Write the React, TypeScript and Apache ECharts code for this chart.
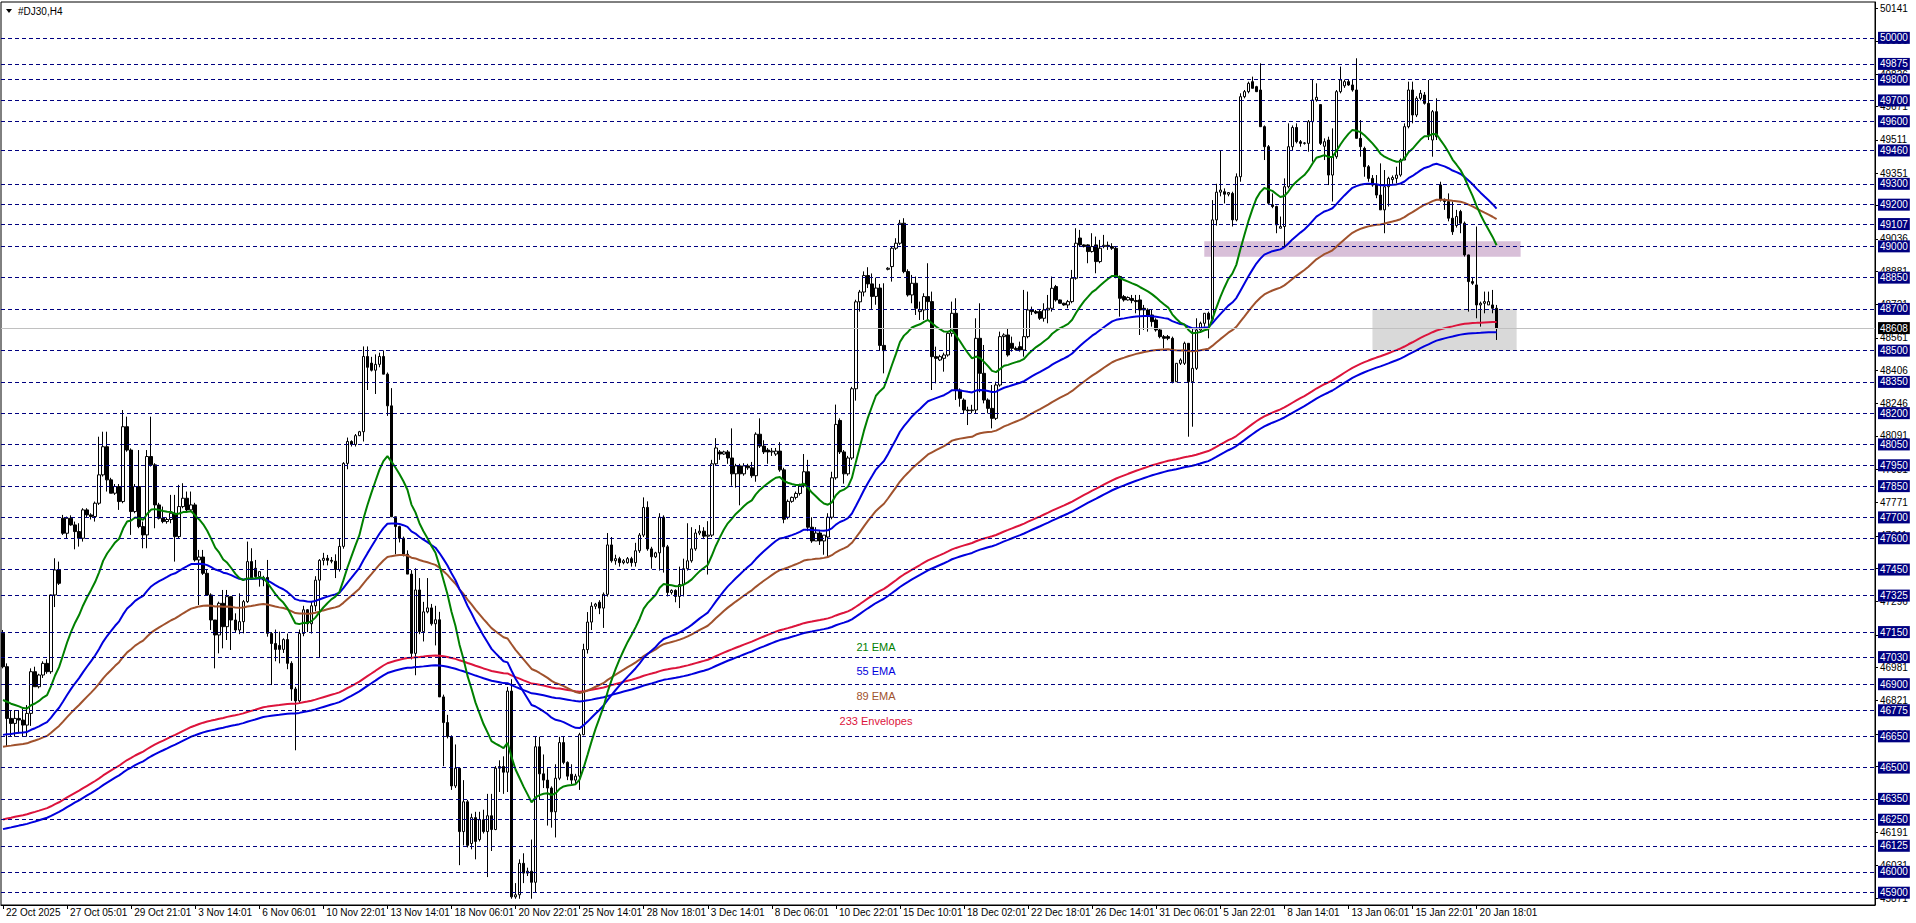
import React, { useEffect, useRef } from "react";
import * as echarts from "echarts";

// ---------- data (H4 bars, index 0 = 22 Oct 2025) ----------
const OPEN = [
  47144, 46984, 46736, 46712, 46736, 46728, 46704, 46760, 46960, 46888,
  46944, 47000, 46960, 47328, 47448, 47696, 47624, 47696, 47664, 47632,
  47600, 47736, 47712, 47704, 47768, 47904, 48039, 47880, 47816, 47848,
  47776, 48135, 48023, 47728, 47848, 47656, 47616, 47992, 47952, 47760,
  47696, 47680, 47690, 47720, 47608, 47752, 47792, 47736, 47760, 47496,
  47510, 47432, 47328, 47208, 47136, 47288, 47176, 47320, 47208, 47160,
  47200, 47296, 47488, 47456, 47416, 47400, 47412, 47143, 47095, 47086,
  47067, 47114, 47000, 46877, 46820, 47143, 47257, 47190, 47276, 47399,
  47494, 47504, 47494, 47490, 47450, 47561, 47959, 48064, 48050, 48092,
  48111, 48472, 48440, 48406, 48434, 48472, 48387, 48235, 47703, 47656,
  47600, 47523, 47428, 47048, 47352, 47152, 47247, 47266, 47190, 47209,
  46839, 46716, 46649, 46412, 46497, 46193, 46336, 46136, 46260, 46155,
  46250, 46193, 46269, 46203, 46497, 46505, 46478, 46867, 45880, 45890,
  46041, 45994, 46003, 45950, 46600, 46470, 46440, 46402, 46288, 46449,
  46620, 46525, 46468, 46440, 46459, 46658, 47066, 47198, 47274, 47293,
  47265, 47331, 47568, 47492, 47502, 47483, 47483, 47502, 47483, 47540,
  47615, 47748, 47549, 47511, 47530, 47701, 47559, 47340, 47350, 47321,
  47378, 47454, 47492, 47549, 47625, 47634, 47610, 47615, 47957, 48014,
  48004, 48014, 47985, 47909, 47947, 47909, 47947, 47938, 47900, 48099,
  48042, 48023, 48014, 48004, 48018, 47928, 47701, 47777, 47796, 47815,
  47852, 47919, 47653, 47587, 47625, 47587, 47606, 47701, 47890, 48165,
  48014, 47909, 47985, 48317, 48734, 48781, 48860, 48820, 48760, 48800,
  48525, 48890, 48903, 48991, 49015, 49111, 48879, 48767, 48823, 48687,
  48695, 48759, 48735, 48471, 48455, 48463, 48479, 48583, 48679, 48311,
  48263, 48215, 48212, 48215, 48559, 48391, 48263, 48223, 48175, 48335,
  48567, 48575, 48535, 48511, 48519, 48503, 48567, 48695, 48687, 48687,
  48655, 48695, 48703, 48807, 48743, 48727, 48719, 48735, 48847, 49040,
  49007, 49007, 48975, 49007, 48927, 48999, 49005, 48999, 48991, 48855,
  48759, 48743, 48750, 48740, 48743, 48703, 48695, 48671, 48647, 48599,
  48567, 48567, 48559, 48351, 48439, 48439, 48535, 48351, 48415, 48599,
  48631, 48679, 48650, 49127, 49260, 49262, 49250, 49254, 49127, 49334,
  49718, 49742, 49790, 49766, 49750, 49574, 49478, 49199, 49191, 49087,
  49095, 49286, 49478, 49570, 49502, 49494, 49494, 49598, 49702, 49680,
  49480, 49510, 49342, 49430, 49742, 49770, 49790, 49774, 49750, 49518,
  49470, 49382, 49326, 49294, 49246, 49175, 49286, 49320, 49326, 49342,
  49414, 49574, 49750, 49630, 49710, 49726, 49686, 49510, 49646, 49294,
  49223, 49215, 49135, 49100, 49167, 49111, 48959, 48831, 48815, 48719,
  48727, 48719, 48719, 48703,
];
const HIGH = [
  47160, 47000, 46776, 46776, 46776, 46784, 46800, 46976, 46984, 46950,
  47010, 47020, 47330, 47504, 47488, 47712, 47704, 47710, 47680, 47672,
  47744, 47744, 47720, 47776, 48087, 48111, 48111, 47890, 47860, 47860,
  48215, 48183, 48031, 47860, 48023, 47680, 48023, 48183, 47960, 47770,
  47752, 47700, 47808, 47808, 47856, 47864, 47824, 47824, 47770, 47544,
  47544, 47450, 47336, 47208, 47296, 47352, 47352, 47320, 47240, 47336,
  47304, 47584, 47552, 47496, 47440, 47420, 47496, 47150, 47162, 47152,
  47120, 47143, 47010, 46887, 47162, 47276, 47260, 47295, 47418, 47500,
  47530, 47520, 47510, 47523, 47599, 47965, 48083, 48070, 48100, 48115,
  48520, 48520, 48470, 48482, 48490, 48501, 48395, 48320, 47703, 47660,
  47608, 47542, 47447, 47456, 47409, 47295, 47409, 47285, 47276, 47247,
  46850, 46753, 46655, 46611, 46500, 46440, 46345, 46279, 46288, 46288,
  46298, 46374, 46374, 46507, 46535, 46554, 46887, 46924, 45946, 46060,
  46089, 46020, 46155, 46650, 46648, 46563, 46497, 46410, 46516, 46648,
  46648, 46530, 46516, 46470, 46667, 47094, 47246, 47293, 47290, 47303,
  47340, 47625, 47606, 47521, 47511, 47500, 47510, 47511, 47578, 47625,
  47796, 47777, 47559, 47535, 47720, 47710, 47568, 47355, 47355, 47464,
  47502, 47672, 47653, 47644, 47663, 47653, 47682, 47976, 48080, 48023,
  48020, 48023, 48127, 47957, 47957, 47960, 47957, 47966, 48108, 48175,
  48070, 48033, 48033, 48033, 48061, 47938, 47786, 47800, 47824, 47862,
  48004, 47976, 47701, 47653, 47634, 47615, 47720, 47919, 48241, 48175,
  48023, 47995, 48326, 48744, 48791, 48880, 48900, 48870, 48850, 48820,
  48823, 48900, 48999, 49039, 49127, 49135, 48890, 48863, 48855, 48735,
  48775, 48919, 48783, 48519, 48480, 48490, 48591, 48735, 48751, 48319,
  48271, 48231, 48240, 48655, 48727, 48527, 48271, 48335, 48351, 48591,
  48583, 48607, 48567, 48520, 48543, 48791, 48783, 48711, 48695, 48695,
  48727, 48767, 48855, 48815, 48745, 48730, 48743, 48887, 49087, 49079,
  49010, 49010, 49063, 49047, 49031, 49055, 49023, 49015, 48999, 48860,
  48767, 48760, 48767, 48767, 48767, 48719, 48703, 48695, 48655, 48607,
  48575, 48575, 48567, 48439, 48463, 48543, 48535, 48607, 48655, 48639,
  48679, 48687, 49222, 49300, 49462, 49278, 49260, 49262, 49350, 49734,
  49750, 49790, 49814, 49770, 49878, 49580, 49486, 49254, 49195, 49143,
  49326, 49590, 49580, 49590, 49510, 49500, 49606, 49798, 49782, 49680,
  49518, 49526, 49566, 49750, 49862, 49800, 49798, 49798, 49902, 49606,
  49478, 49390, 49342, 49342, 49398, 49366, 49334, 49340, 49382, 49422,
  49590, 49790, 49790, 49720, 49750, 49740, 49798, 49654, 49710, 49310,
  49230, 49254, 49215, 49175, 49175, 49119, 48960, 48850, 49095, 48735,
  48783, 48783, 48791, 48719,
];
const LOW = [
  46976, 46600, 46648, 46648, 46664, 46648, 46648, 46700, 46888, 46880,
  46930, 46950, 46950, 47270, 47376, 47616, 47600, 47660, 47547, 47560,
  47584, 47700, 47690, 47680, 47760, 47896, 47824, 47816, 47808, 47736,
  47768, 48015, 47616, 47720, 47648, 47552, 47552, 47944, 47648, 47690,
  47672, 47670, 47672, 47488, 47600, 47744, 47728, 47728, 47488, 47280,
  47424, 47328, 47160, 46976, 47048, 47072, 47112, 47064, 47150, 47140,
  47144, 47290, 47400, 47410, 47368, 47370, 47128, 46896, 47010, 47000,
  47050, 46972, 46820, 46583, 46810, 47130, 47150, 47143, 47250, 47029,
  47470, 47470, 47480, 47409, 47440, 47550, 47931, 48040, 48040, 48090,
  48064, 48311, 48400, 48292, 48420, 48387, 48187, 47703, 47523, 47580,
  47513, 47428, 47019, 46943, 47140, 47105, 47240, 47181, 47086, 46839,
  46507, 46640, 46393, 46402, 46032, 46127, 46117, 46108, 46060, 46146,
  46184, 45975, 46100, 46200, 46383, 46374, 46383, 45871, 45871, 45871,
  45946, 45980, 45871, 45900, 46345, 46402, 46222, 46212, 46165, 46440,
  46516, 46440, 46421, 46421, 46393, 46655, 47047, 47160, 47260, 47236,
  47170, 47320, 47483, 47473, 47464, 47475, 47478, 47464, 47464, 47530,
  47606, 47540, 47454, 47505, 47445, 47435, 47321, 47330, 47293, 47265,
  47321, 47445, 47483, 47540, 47615, 47596, 47426, 47606, 47947, 47976,
  48000, 47957, 47852, 47843, 47758, 47900, 47928, 47890, 47871, 48033,
  48004, 47957, 47995, 47995, 47919, 47672, 47691, 47770, 47786, 47805,
  47843, 47634, 47578, 47587, 47568, 47521, 47511, 47691, 47881, 48004,
  47862, 47900, 47976, 48260, 48687, 48760, 48800, 48700, 48720, 48500,
  48391, 48885, 48831, 48983, 49007, 48871, 48759, 48727, 48671, 48647,
  48647, 48647, 48311, 48343, 48450, 48399, 48471, 48567, 48263, 48231,
  48199, 48143, 48199, 48199, 48300, 48247, 48199, 48127, 48167, 48327,
  48503, 48471, 48495, 48500, 48495, 48471, 48559, 48671, 48675, 48647,
  48639, 48631, 48687, 48735, 48725, 48715, 48703, 48727, 48840, 48999,
  48995, 48919, 48970, 48871, 48919, 48991, 48983, 48983, 48847, 48663,
  48735, 48740, 48727, 48679, 48575, 48599, 48591, 48615, 48591, 48559,
  48511, 48550, 48343, 48351, 48431, 48431, 48087, 48135, 48407, 48591,
  48615, 48559, 48640, 49100, 49240, 49206, 49240, 49095, 49120, 49310,
  49710, 49734, 49758, 49740, 49574, 49414, 49199, 49183, 49063, 49087,
  48999, 49278, 49462, 49494, 49478, 49488, 49454, 49406, 49694, 49486,
  49414, 49294, 49215, 49420, 49734, 49760, 49770, 49742, 49518, 49430,
  49334, 49310, 49286, 49231, 49175, 49063, 49191, 49300, 49302, 49334,
  49414, 49566, 49590, 49620, 49700, 49680, 49510, 49430, 49510, 49215,
  49175, 49120, 49055, 49090, 49063, 48951, 48687, 48815, 48655, 48615,
  48679, 48719, 48679, 48551,
];
const CLOSE = [
  46984, 46736, 46712, 46736, 46728, 46704, 46760, 46960, 46888, 46944,
  47000, 46960, 47328, 47448, 47384, 47624, 47696, 47664, 47632, 47600,
  47736, 47712, 47704, 47768, 47904, 48039, 47880, 47816, 47848, 47776,
  48135, 48023, 47728, 47848, 47656, 47616, 47992, 47952, 47760, 47696,
  47680, 47690, 47720, 47608, 47752, 47792, 47736, 47760, 47496, 47510,
  47432, 47328, 47208, 47136, 47288, 47176, 47320, 47208, 47160, 47200,
  47296, 47488, 47408, 47416, 47440, 47412, 47144, 47095, 47067, 47067,
  47114, 47000, 46877, 46820, 47143, 47257, 47190, 47276, 47399, 47494,
  47504, 47494, 47490, 47450, 47561, 47959, 48064, 48050, 48092, 48111,
  48472, 48420, 48406, 48434, 48472, 48387, 48235, 47703, 47656, 47600,
  47523, 47428, 47048, 47352, 47152, 47247, 47266, 47190, 47209, 46839,
  46716, 46649, 46412, 46497, 46193, 46336, 46127, 46260, 46146, 46250,
  46193, 46269, 46203, 46497, 46505, 46478, 46867, 45880, 45890, 46041,
  45994, 46003, 45950, 46600, 46470, 46440, 46402, 46288, 46449, 46620,
  46525, 46459, 46440, 46459, 46658, 47066, 47198, 47274, 47284, 47265,
  47331, 47568, 47492, 47502, 47483, 47492, 47502, 47483, 47540, 47615,
  47748, 47549, 47511, 47530, 47701, 47559, 47340, 47350, 47321, 47378,
  47454, 47492, 47549, 47625, 47634, 47610, 47615, 47957, 48033, 48004,
  48014, 47985, 47909, 47947, 47909, 47947, 47938, 47900, 48099, 48042,
  48014, 48014, 48018, 48018, 47928, 47691, 47777, 47796, 47815, 47852,
  47919, 47653, 47587, 47625, 47587, 47615, 47701, 47890, 48146, 48014,
  47909, 47985, 48317, 48734, 48781, 48860, 48820, 48760, 48800, 48525,
  48500, 48895, 48991, 49015, 49111, 48879, 48767, 48823, 48703, 48695,
  48759, 48735, 48471, 48463, 48471, 48479, 48583, 48679, 48311, 48271,
  48215, 48212, 48215, 48559, 48391, 48263, 48223, 48175, 48335, 48567,
  48575, 48479, 48511, 48505, 48503, 48567, 48695, 48687, 48680, 48655,
  48695, 48703, 48799, 48743, 48727, 48719, 48735, 48847, 49015, 49007,
  48999, 48975, 48999, 48927, 48991, 49005, 48999, 48991, 48855, 48751,
  48743, 48755, 48740, 48735, 48695, 48695, 48671, 48639, 48599, 48567,
  48559, 48559, 48351, 48439, 48455, 48535, 48351, 48415, 48599, 48631,
  48679, 48650, 49127, 49260, 49270, 49250, 49258, 49127, 49334, 49718,
  49742, 49782, 49758, 49742, 49574, 49478, 49207, 49191, 49103, 49095,
  49286, 49478, 49570, 49502, 49494, 49496, 49598, 49702, 49715, 49494,
  49502, 49342, 49430, 49742, 49798, 49790, 49774, 49750, 49518, 49478,
  49382, 49326, 49294, 49246, 49175, 49286, 49326, 49330, 49342, 49414,
  49574, 49750, 49630, 49710, 49734, 49686, 49534, 49646, 49526, 49223,
  49215, 49135, 49070, 49143, 49111, 48959, 48831, 48823, 48719, 48727,
  48735, 48735, 48703, 48608,
];

const TIME_LABELS = [
  "22 Oct 2025", "27 Oct 05:01", "29 Oct 21:01", "3 Nov 14:01", "6 Nov 06:01",
  "10 Nov 22:01", "13 Nov 14:01", "18 Nov 06:01", "20 Nov 22:01", "25 Nov 14:01",
  "28 Nov 18:01", "3 Dec 14:01", "8 Dec 06:01", "10 Dec 22:01", "15 Dec 10:01",
  "18 Dec 02:01", "22 Dec 18:01", "26 Dec 14:01", "31 Dec 06:01", "5 Jan 22:01",
  "8 Jan 14:01", "13 Jan 06:01", "15 Jan 22:01", "20 Jan 18:01",
];
const BARS_PER_LABEL = 16;
const SLOT_COUNT = 468;

const PRICE_SCALE = [
  50141, 49986, 49826, 49671, 49511, 49351, 49196, 49036, 48881, 48721,
  48561, 48406, 48246, 48091, 47931, 47771, 47611, 47456, 47296, 47136,
  46981, 46821, 46661, 46506, 46346, 46191, 46031, 45871,
];
const LEVELS = [
  50000, 49875, 49800, 49700, 49600, 49460, 49300, 49200, 49107, 49000,
  48850, 48700, 48500, 48350, 48200, 48050, 47950, 47850, 47700, 47600,
  47450, 47325, 47150, 47030, 46900, 46775, 46650, 46500, 46350, 46250,
  46125, 46000, 45900,
];
const CURRENT_PRICE = 48608;
const Y_MIN = 45841;
const Y_MAX = 50172;

// indicator seeds (values of each average at the first visible bar)
const EMA_PERIODS = [21, 55, 89];
const EMA_SEEDS = [46824, 46657, 46600];
const ENV_PERIOD = 233;
const ENV_SEED = 46228;
const ENV_DEVIATION = 0.0005;

// zones: [fromBar, toBar, upperPrice, lowerPrice]
const ZONE_RESIST = [300, 379, 49025, 48950];
const ZONE_SUPPORT = [342, 378, 48700, 48500];

// ---------- helpers ----------
function ema(src: number[], period: number, seed: number): number[] {
  const k = 2 / (period + 1);
  const out: number[] = [];
  let e = seed;
  for (let i = 0; i < src.length; i++) {
    if (i > 0) e = e + k * (src[i] - e);
    out.push(Math.round(e * 10) / 10);
  }
  return out;
}

const FONT = "'Liberation Sans', Arial, sans-serif";
const NAVY = "#000080";
const C_GREEN = "#008000";
const C_BLUE = "#0000DD";
const C_BROWN = "#A0522D";
const C_RED = "#DC143C";

export default function App() {
  const ref = useRef<HTMLDivElement>(null);

  useEffect(() => {
    if (!ref.current) return;
    const chart = echarts.init(ref.current, null, { renderer: "svg" });

    const categories = Array.from({ length: SLOT_COUNT }, (_, i) => String(i));
    const candles = CLOSE.map((c, i) => {
      const o = OPEN[i];
      return [o, c, Math.min(LOW[i], o, c), Math.max(HIGH[i], o, c)];
    });
    const [ema21, ema55, ema89] = EMA_PERIODS.map((p, i) => ema(CLOSE, p, EMA_SEEDS[i]));
    const envMid = ema(CLOSE, ENV_PERIOD, ENV_SEED);
    const envUp = envMid.map((v) => Math.round(v * (1 + ENV_DEVIATION) * 10) / 10);
    const envDn = envMid.map((v) => Math.round(v * (1 - ENV_DEVIATION) * 10) / 10);

    const showTick = (idx: number) =>
      idx % BARS_PER_LABEL === 0 && idx / BARS_PER_LABEL < TIME_LABELS.length;

    const lineSeries = (name: string, data: number[], color: string) => ({
      name,
      type: "line",
      data,
      showSymbol: false,
      symbol: "none",
      silent: true,
      z: 4,
      lineStyle: { color, width: 2 },
    });

    const option: any = {
      animation: false,
      backgroundColor: "#ffffff",
      textStyle: { fontFamily: FONT },
      grid: {
        left: 1,
        top: 2,
        right: 41,
        bottom: 18,
        show: true,
        borderColor: "#000",
        borderWidth: 1,
        backgroundColor: "#fff",
      },
      xAxis: {
        type: "category",
        data: categories,
        boundaryGap: true,
        axisLine: { show: true, lineStyle: { color: "#000", width: 1 } },
        axisTick: {
          show: true,
          alignWithLabel: true,
          interval: (i: number) => showTick(i),
          length: 4,
          lineStyle: { color: "#000" },
        },
        axisLabel: {
          show: true,
          interval: (i: number) => showTick(i),
          formatter: (_v: string, i: number) => TIME_LABELS[i / BARS_PER_LABEL] ?? "",
          align: "left",
          margin: 2,
          padding: [0, 0, 0, 3],
          color: "#000",
          fontSize: 10,
          fontFamily: FONT,
        },
        splitLine: { show: false },
      },
      yAxis: {
        type: "value",
        position: "right",
        min: Y_MIN,
        max: Y_MAX,
        scale: true,
        axisLine: { show: true, lineStyle: { color: "#000", width: 1 } },
        axisTick: {
          show: true,
          customValues: PRICE_SCALE,
          length: 3,
          lineStyle: { color: "#000" },
        },
        axisLabel: {
          show: true,
          customValues: PRICE_SCALE,
          formatter: (v: number) => String(v),
          color: "#000",
          fontSize: 10,
          margin: 5,
          fontFamily: FONT,
        },
        splitLine: { show: false },
      },
      series: [
        {
          name: "zones",
          type: "line",
          data: [],
          silent: true,
          z: 0,
          markArea: {
            silent: true,
            data: [
              [
                { xAxis: String(ZONE_RESIST[0]), yAxis: ZONE_RESIST[2], itemStyle: { color: "#d8bfd8" } },
                { xAxis: String(ZONE_RESIST[1]), yAxis: ZONE_RESIST[3] },
              ],
              [
                { xAxis: String(ZONE_SUPPORT[0]), yAxis: ZONE_SUPPORT[2], itemStyle: { color: "#d9d9d9" } },
                { xAxis: String(ZONE_SUPPORT[1]), yAxis: ZONE_SUPPORT[3] },
              ],
            ],
          },
        },
        {
          name: "levels",
          type: "line",
          data: [],
          silent: true,
          z: 1,
          markLine: {
            silent: true,
            symbol: ["none", "none"],
            animation: false,
            lineStyle: { color: NAVY, width: 1, type: [4, 3] },
            label: {
              show: true,
              position: "end",
              distance: 3,
              formatter: (p: any) => String(p.value),
              color: "#fff",
              backgroundColor: NAVY,
              padding: [1, 2, 0, 2],
              fontSize: 10,
              lineHeight: 11,
              fontFamily: FONT,
            },
            emphasis: { disabled: true },
            data: LEVELS.map((v) => ({ yAxis: v })),
          },
        },
        {
          name: "current",
          type: "line",
          data: [],
          silent: true,
          z: 2,
          markLine: {
            silent: true,
            symbol: ["none", "none"],
            animation: false,
            lineStyle: { color: "#c0c0c0", width: 1, type: "solid" },
            label: {
              show: true,
              position: "end",
              distance: 3,
              formatter: (p: any) => String(p.value),
              color: "#fff",
              backgroundColor: "#000",
              padding: [1, 2, 0, 2],
              fontSize: 10,
              lineHeight: 11,
              fontFamily: FONT,
            },
            emphasis: { disabled: true },
            data: [{ yAxis: CURRENT_PRICE }],
          },
        },
        {
          name: "DJ30",
          type: "candlestick",
          data: candles,
          barWidth: 3,
          silent: true,
          z: 3,
          itemStyle: {
            color: "#ffffff",
            color0: "#000000",
            borderColor: "#000000",
            borderColor0: "#000000",
            borderWidth: 1,
          },
        },
        lineSeries("233 Envelopes upper", envUp, C_RED),
        lineSeries("233 Envelopes lower", envDn, C_BLUE),
        lineSeries("89 EMA", ema89, C_BROWN),
        lineSeries("55 EMA", ema55, C_BLUE),
        lineSeries("21 EMA", ema21, C_GREEN),
      ],
      graphic: [
        {
          type: "polygon",
          shape: { points: [[6, 9], [12, 9], [9, 13]] },
          style: { fill: "#000" },
          z: 10,
        },
        {
          type: "text",
          x: 18,
          y: 11,
          z: 10,
          style: { text: "#DJ30,H4", fill: "#000", font: `10px ${FONT}`, textVerticalAlign: "middle" },
        },
        {
          type: "text",
          x: 876,
          y: 647,
          z: 10,
          style: { text: "21 EMA", fill: C_GREEN, font: `11px ${FONT}`, textAlign: "center", textVerticalAlign: "middle" },
        },
        {
          type: "text",
          x: 876,
          y: 671,
          z: 10,
          style: { text: "55 EMA", fill: C_BLUE, font: `11px ${FONT}`, textAlign: "center", textVerticalAlign: "middle" },
        },
        {
          type: "text",
          x: 876,
          y: 696,
          z: 10,
          style: { text: "89 EMA", fill: C_BROWN, font: `11px ${FONT}`, textAlign: "center", textVerticalAlign: "middle" },
        },
        {
          type: "text",
          x: 876,
          y: 721,
          z: 10,
          style: { text: "233 Envelopes", fill: C_RED, font: `11px ${FONT}`, textAlign: "center", textVerticalAlign: "middle" },
        },
      ],
    };

    chart.setOption(option);
    return () => chart.dispose();
  }, []);

  return (
    <div
      ref={ref}
      style={{ position: "fixed", left: 0, top: 0, width: 1916, height: 923, background: "#fff" }}
    />
  );
}
